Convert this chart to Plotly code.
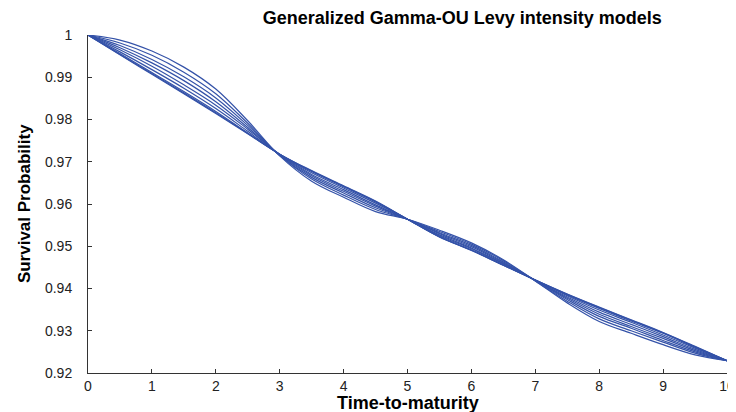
import plotly.graph_objects as go

# time grid (years)
t = [0, 0.5, 1, 1.5, 2, 2.5, 3, 3.5, 4, 4.5, 5, 5.5, 6, 6.5, 7, 7.5, 8, 8.5, 9, 9.5, 10]

# survival curves, one per model parameter
s1 = [1.0000, 0.9953, 0.9907, 0.9861, 0.9814, 0.9766, 0.9718, 0.9679, 0.9643, 0.9607, 0.9564,
      0.9522, 0.9490, 0.9455, 0.9420, 0.9387, 0.9356, 0.9326, 0.9296, 0.9263, 0.9229]
s2 = [1.0000, 0.9954, 0.9909, 0.9863, 0.9816, 0.9767, 0.9718, 0.9678, 0.9642, 0.9606, 0.9564,
      0.9522, 0.9491, 0.9455, 0.9420, 0.9386, 0.9355, 0.9325, 0.9295, 0.9262, 0.9229]
s3 = [1.0000, 0.9956, 0.9911, 0.9866, 0.9819, 0.9768, 0.9718, 0.9677, 0.9641, 0.9605, 0.9564,
      0.9523, 0.9491, 0.9456, 0.9420, 0.9385, 0.9353, 0.9323, 0.9294, 0.9261, 0.9229]
s4 = [1.0000, 0.9960, 0.9918, 0.9874, 0.9826, 0.9772, 0.9717, 0.9674, 0.9638, 0.9602, 0.9564,
      0.9525, 0.9494, 0.9458, 0.9420, 0.9383, 0.9349, 0.9320, 0.9290, 0.9259, 0.9229]
s5 = [1.0000, 0.9965, 0.9926, 0.9882, 0.9834, 0.9777, 0.9717, 0.9670, 0.9634, 0.9598, 0.9564,
      0.9527, 0.9496, 0.9459, 0.9419, 0.9380, 0.9344, 0.9315, 0.9286, 0.9256, 0.9229]
s6 = [1.0000, 0.9970, 0.9934, 0.9892, 0.9842, 0.9781, 0.9716, 0.9667, 0.9630, 0.9595, 0.9564,
      0.9530, 0.9499, 0.9461, 0.9419, 0.9377, 0.9339, 0.9310, 0.9282, 0.9253, 0.9229]
s7 = [1.0000, 0.9975, 0.9942, 0.9901, 0.9851, 0.9786, 0.9715, 0.9663, 0.9626, 0.9591, 0.9564,
      0.9532, 0.9502, 0.9463, 0.9419, 0.9374, 0.9334, 0.9306, 0.9277, 0.9250, 0.9229]
s8 = [1.0000, 0.9981, 0.9952, 0.9912, 0.9861, 0.9791, 0.9715, 0.9659, 0.9621, 0.9587, 0.9564,
      0.9535, 0.9505, 0.9466, 0.9418, 0.9370, 0.9328, 0.9300, 0.9273, 0.9247, 0.9229]
s9 = [1.0000, 0.9988, 0.9962, 0.9924, 0.9872, 0.9797, 0.9714, 0.9654, 0.9616, 0.9582, 0.9564,
      0.9538, 0.9508, 0.9468, 0.9418, 0.9366, 0.9322, 0.9294, 0.9267, 0.9243, 0.9229]
curves = [s1, s2, s3, s4, s5, s6, s7, s8, s9]

y_ticks = [0.92, 0.93, 0.94, 0.95, 0.96, 0.97, 0.98, 0.99, 1.0]
y_labels = ["0.92", "0.93", "0.94", "0.95", "0.96", "0.97", "0.98", "0.99", "1"]
x_ticks = [0, 1, 2, 3, 4, 5, 6, 7, 8, 9, 10]

fig = go.Figure()
for c in curves:
    fig.add_trace(go.Scatter(x=t, y=c, mode='lines',
                             line=dict(color='#3452a8', width=1.2, shape='spline'),
                             showlegend=False, hoverinfo='skip'))

# page body has an 8px margin, so the figure is a bit smaller than the window
axis_font = dict(family='Liberation Sans, Arial', size=14, color='#222222')
fig.update_layout(
    width=728, height=404,
    margin=dict(l=80, r=9, t=27, b=39),
    plot_bgcolor='white', paper_bgcolor='white',
    title=dict(text='<b>Generalized Gamma-OU Levy intensity models</b>',
               x=0.624, xanchor='center', y=0.975, yanchor='middle',
               font=dict(family='Liberation Sans, Arial', size=18, color='black')),
    xaxis=dict(range=[0, 10], tickvals=x_ticks, ticks='inside', ticklen=4,
               tickcolor='#333333', showline=True, linecolor='#333333', linewidth=1,
               showgrid=False, zeroline=False, tickfont=axis_font, automargin=False,
               ticklabelstandoff=0),
    yaxis=dict(range=[0.92, 1.0], tickvals=y_ticks, ticktext=y_labels, ticks='inside',
               ticklen=4, tickcolor='#333333', showline=True, linecolor='#333333',
               linewidth=1, showgrid=False, zeroline=False, tickfont=axis_font,
               automargin=False, ticklabelstandoff=12),
)
fig.add_annotation(text='<b>Time-to-maturity</b>', xref='paper', yref='paper',
                   x=0.5, y=-0.089, xanchor='center', yanchor='middle', showarrow=False,
                   font=dict(family='Liberation Sans, Arial', size=18, color='black'))
fig.add_annotation(text='<b>Survival Probability</b>', xref='paper', yref='paper',
                   x=-0.1, y=0.5, xanchor='center', yanchor='middle', showarrow=False,
                   textangle=-90,
                   font=dict(family='Liberation Sans, Arial', size=17, color='black'))

fig.write_html("out.html")
